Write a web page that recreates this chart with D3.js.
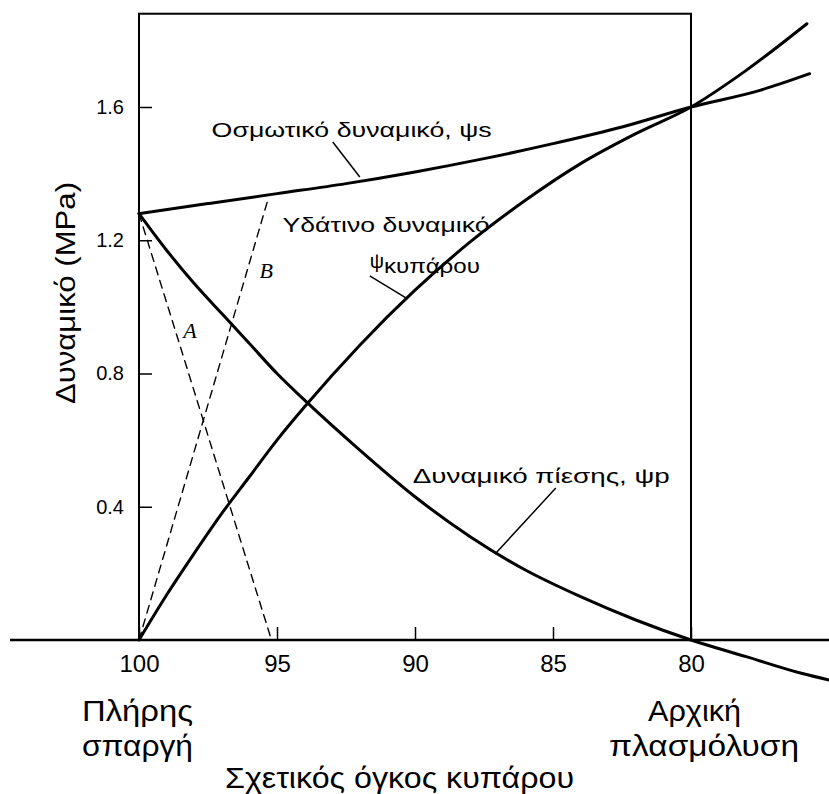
<!DOCTYPE html>
<html>
<head>
<meta charset="utf-8">
<script src="https://cdn.jsdelivr.net/npm/d3@7"></script>
<style>
  body { margin: 0; background: #fff; }
  text { font-family: "Liberation Sans", Arial, sans-serif; fill: #000; }
</style>
</head>
<body>
<div class="grafico"></div>
<script>
const width = 829, height = 794;

// relative cell volume (%) and potentials (MPa, magnitudes)
const osmoticVol = [100, 97.5, 95, 92.5, 90, 87.5, 85, 82.5, 80, 77.5, 75.7];
const osmoticPsi = [1.28, 1.31, 1.34, 1.37, 1.405, 1.445, 1.49, 1.54, 1.60, 1.65, 1.70];

const pressureVol = [100, 99, 98, 97, 96, 95, 94, 92, 90, 88, 86, 84, 82, 80, 78, 76, 75];
const pressurePsi = [1.28, 1.17, 1.07, 0.98, 0.89, 0.80, 0.72, 0.57, 0.43, 0.31, 0.21, 0.13, 0.06, 0, -0.05, -0.10, -0.12];

const waterVol = [100, 99, 98, 97, 96, 95, 94, 92, 90, 88, 86, 84, 82, 80, 78, 75.8];
const waterPsi = [0, 0.135, 0.26, 0.38, 0.49, 0.60, 0.70, 0.885, 1.05, 1.195, 1.32, 1.43, 1.52, 1.60, 1.71, 1.85];

const lineAVol = [100, 95.2];
const lineAPsi = [1.28, 0];
const lineBVol = [100, 95.3];
const lineBPsi = [0, 1.33];

const xTicks = [100, 95, 90, 85, 80];
const yTicks = [0.4, 0.8, 1.2, 1.6];
const boxTop = 1.88;

const svg = d3.select(".grafico")
    .append("svg")
    .attr("width", width)
    .attr("height", height);

const x = d3.scaleLinear().domain([100, 80]).range([139, 691]);
const y = d3.scaleLinear().domain([0, 1.6]).range([640, 107]);

// frame
svg.append("rect")
    .attr("x", x(100))
    .attr("y", y(boxTop))
    .attr("width", x(80) - x(100))
    .attr("height", y(0) - y(boxTop))
    .attr("fill", "none")
    .attr("stroke", "#000")
    .attr("stroke-width", 2);

// baseline across the whole picture
svg.append("line")
    .attr("x1", 10).attr("x2", width)
    .attr("y1", y(0)).attr("y2", y(0))
    .attr("stroke", "#000")
    .attr("stroke-width", 2.5);

const xAxis = svg.append("g")
    .attr("transform", `translate(0, ${y(0)})`)
    .call(d3.axisBottom(x).tickValues(xTicks).tickSizeInner(-13).tickSizeOuter(0).tickPadding(15));
xAxis.select(".domain").remove();
xAxis.selectAll("text").style("font-size", "24px");
xAxis.selectAll("line").attr("stroke-width", 1.5);

const yAxis = svg.append("g")
    .attr("transform", `translate(${x(100)}, 0)`)
    .call(d3.axisLeft(y).tickValues(yTicks).tickFormat(d3.format(".1f")).tickSizeInner(-13).tickSizeOuter(0).tickPadding(15));
yAxis.select(".domain").remove();
yAxis.selectAll("text").style("font-size", "20px");
yAxis.selectAll("line").attr("stroke-width", 1.5);

const line = d3.line()
    .x(d => x(d[0]))
    .y(d => y(d[1]))
    .curve(d3.curveMonotoneX);

const curves = [
    { pts: d3.zip(osmoticVol, osmoticPsi), dash: null, w: 3 },
    { pts: d3.zip(pressureVol, pressurePsi), dash: null, w: 3 },
    { pts: d3.zip(waterVol, waterPsi), dash: null, w: 3 },
    { pts: d3.zip(lineAVol, lineAPsi), dash: "8,6", w: 1.4 },
    { pts: d3.zip(lineBVol, lineBPsi), dash: "8,6", w: 1.4 }
];

svg.selectAll("path.curve")
    .data(curves)
    .enter().append("path")
    .attr("class", "curve")
    .attr("d", d => line(d.pts))
    .attr("fill", "none")
    .attr("stroke", "#000")
    .attr("stroke-width", d => d.w)
    .attr("stroke-dasharray", d => d.dash)
    .attr("stroke-linecap", "round");

// leader lines, in data space
const leaders = [
    [[92.98, 1.495], [92.0, 1.39]],
    [[91.64, 1.093], [90.27, 1.024]],
    [[84.9, 0.456], [87.1, 0.258]]
];
svg.selectAll("line.leader")
    .data(leaders)
    .enter().append("line")
    .attr("class", "leader")
    .attr("x1", d => x(d[0][0])).attr("y1", d => y(d[0][1]))
    .attr("x2", d => x(d[1][0])).attr("y2", d => y(d[1][1]))
    .attr("stroke", "#000")
    .attr("stroke-width", 1.5);

// curve labels
const labels = [
    { t: "Οσμωτικό δυναμικό, ψs", v: 97.37, p: 1.51, len: 280 },
    { t: "Υδάτινο δυναμικό", v: 94.8, p: 1.225, len: 207 },
    { t: "Δυναμικό πίεσης, ψp", v: 90.08, p: 0.471, len: 257 }
];
svg.selectAll("text.lab")
    .data(labels)
    .enter().append("text")
    .attr("class", "lab")
    .attr("x", d => x(d.v))
    .attr("y", d => y(d.p))
    .attr("textLength", d => d.len)
    .attr("lengthAdjust", "spacingAndGlyphs")
    .style("font-size", "20px")
    .text(d => d.t);

const psiCell = svg.append("text")
    .attr("x", x(91.64))
    .attr("y", y(1.117))
    .style("font-size", "20px");
psiCell.append("tspan").text("ψ");
psiCell.append("tspan").attr("dy", 5).attr("textLength", 96)
    .attr("lengthAdjust", "spacingAndGlyphs").text("κυπάρου");

svg.selectAll("text.letter")
    .data([{ t: "A", v: 98.4, p: 0.907 }, { t: "B", v: 95.63, p: 1.087 }])
    .enter().append("text")
    .attr("class", "letter")
    .attr("x", d => x(d.v))
    .attr("y", d => y(d.p))
    .style("font-family", "'Liberation Serif', 'DejaVu Serif', serif")
    .style("font-style", "italic")
    .style("font-size", "22px")
    .text(d => d.t);

// bottom captions
const captions = [
    { t: "Πλήρης", x: 82, y: 721, len: 111 },
    { t: "σπαργή", x: 82, y: 756, len: 111 },
    { t: "Αρχική", x: 648, y: 721, len: 93 },
    { t: "πλασμόλυση", x: 609, y: 756, len: 190 },
    { t: "Σχετικός όγκος κυπάρου", x: 225, y: 788, len: 349 }
];
svg.selectAll("text.cap")
    .data(captions)
    .enter().append("text")
    .attr("class", "cap")
    .attr("x", d => d.x)
    .attr("y", d => d.y)
    .attr("textLength", d => d.len)
    .attr("lengthAdjust", "spacingAndGlyphs")
    .style("font-size", "30px")
    .text(d => d.t);

svg.append("text")
    .attr("transform", "translate(75, 293) rotate(-90)")
    .attr("text-anchor", "middle")
    .attr("textLength", 222)
    .attr("lengthAdjust", "spacingAndGlyphs")
    .style("font-size", "28px")
    .text("Δυναμικό (MPa)");
</script>
</body>
</html>
